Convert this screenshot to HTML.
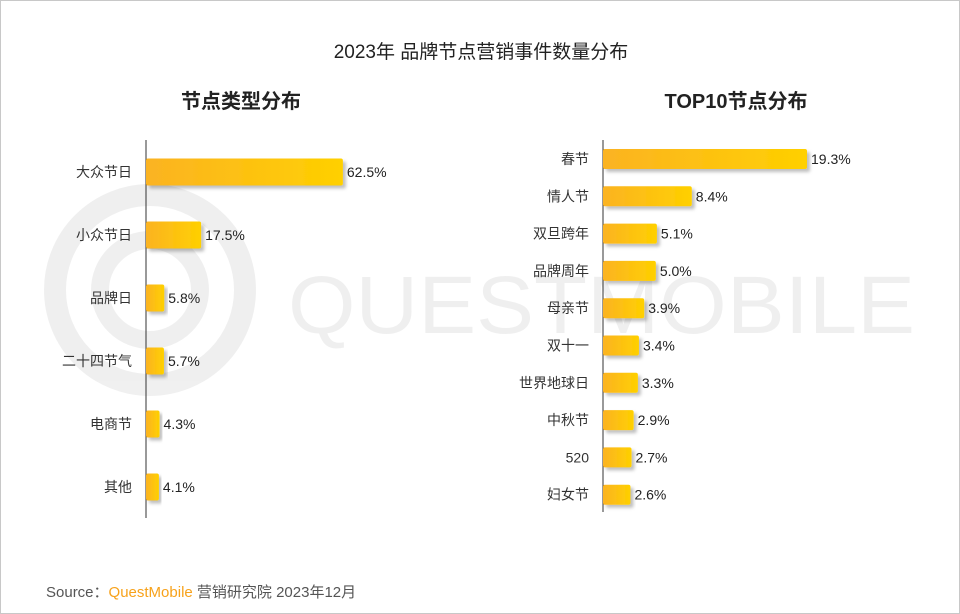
<!DOCTYPE html>
<html><head><meta charset="utf-8"><style>
body{margin:0;background:#fff;}
#root{position:relative;width:958px;height:612px;border:1px solid #c8c8c8;overflow:hidden;font-family:"Liberation Sans","Noto Sans CJK SC",sans-serif;}
.t{position:absolute;color:#222;}
</style></head><body>
<div id="root">
<div class="t" style="left:0;width:960px;top:36px;text-align:center;font-size:19px;">2023年 品牌节点营销事件数量分布</div>
<div class="t" style="left:150px;width:180px;top:84px;text-align:center;font-size:20px;font-weight:bold;">节点类型分布</div>
<div class="t" style="left:610px;width:250px;top:84px;text-align:center;font-size:20px;font-weight:bold;">TOP10节点分布</div>
<div class="t" style="left:45px;top:580px;font-size:15px;color:#555;">Source：<span style="color:#f7a21b">QuestMobile</span> 营销研究院 2023年12月</div>
<svg width="960" height="614" style="position:absolute;left:-1px;top:-1px" id="svg">
<defs>
<linearGradient id="g" x1="0" x2="1" y1="0" y2="0"><stop offset="0" stop-color="#fbb322"/><stop offset="1" stop-color="#ffd000"/></linearGradient>
<filter id="sh" x="-10%" y="-30%" width="130%" height="180%"><feDropShadow dx="3" dy="3" stdDeviation="1.5" flood-color="#000" flood-opacity="0.25"/></filter>
</defs>
<g opacity="0.06" fill="none" stroke="#000">
<circle cx="150" cy="290" r="95" stroke-width="22"/>
<circle cx="150" cy="290" r="50" stroke-width="18"/>
<text x="288" y="333" font-size="82" fill="#000" stroke="none" font-family="Liberation Sans" textLength="627" lengthAdjust="spacingAndGlyphs">QUESTMOBILE</text>
</g>
</svg>
</div>
<script>
const leftCats=["大众节日","小众节日","品牌日","二十四节气","电商节","其他"];
const leftVals=[62.5,17.5,5.8,5.7,4.3,4.1];
const rightCats=["春节","情人节","双旦跨年","品牌周年","母亲节","双十一","世界地球日","中秋节","520","妇女节"];
const rightVals=[19.3,8.4,5.1,5.0,3.9,3.4,3.3,2.9,2.7,2.6];
const svg=document.getElementById('svg');
const NS='http://www.w3.org/2000/svg';
function mk(t,a){const e=document.createElementNS(NS,t);for(const k in a)e.setAttribute(k,a[k]);svg.appendChild(e);return e;}
function draw(cats,vals,o){
  const x=v=>o.x0+v*o.k;
  const y=i=>o.y0+i*o.step;
  const ax=mk('line',{x1:o.x0,x2:o.x0,y1:o.ay1,y2:o.ay2,stroke:'#333','stroke-width':1});
  
  
  cats.forEach((c,i)=>{
    const cy=y(i);
    const r=mk('rect',{x:o.x0,y:cy-o.h/2,width:x(vals[i])-o.x0,height:o.h,rx:2,fill:'url(#g)',filter:'url(#sh)'});
    
    
    const l=mk('text',{x:o.x0-14,y:cy+5,'text-anchor':'end','font-size':14,fill:'#333','font-family':'Liberation Sans, Noto Sans CJK SC, sans-serif'});
    l.textContent=c;
    
    
    const v=mk('text',{x:x(vals[i])+4,y:cy+5,'font-size':14,fill:'#222','font-family':'Liberation Sans, sans-serif'});
    v.textContent=vals[i].toFixed(1)+'%';
    
    
  });
}
draw(leftCats,leftVals,{p:'left',x0:146,k:3.15,y0:172,step:63,h:27,ay1:140,ay2:518});
draw(rightCats,rightVals,{p:'right',x0:603,k:10.57,y0:159,step:37.3,h:20,ay1:140,ay2:512});
</script>
</body></html>
